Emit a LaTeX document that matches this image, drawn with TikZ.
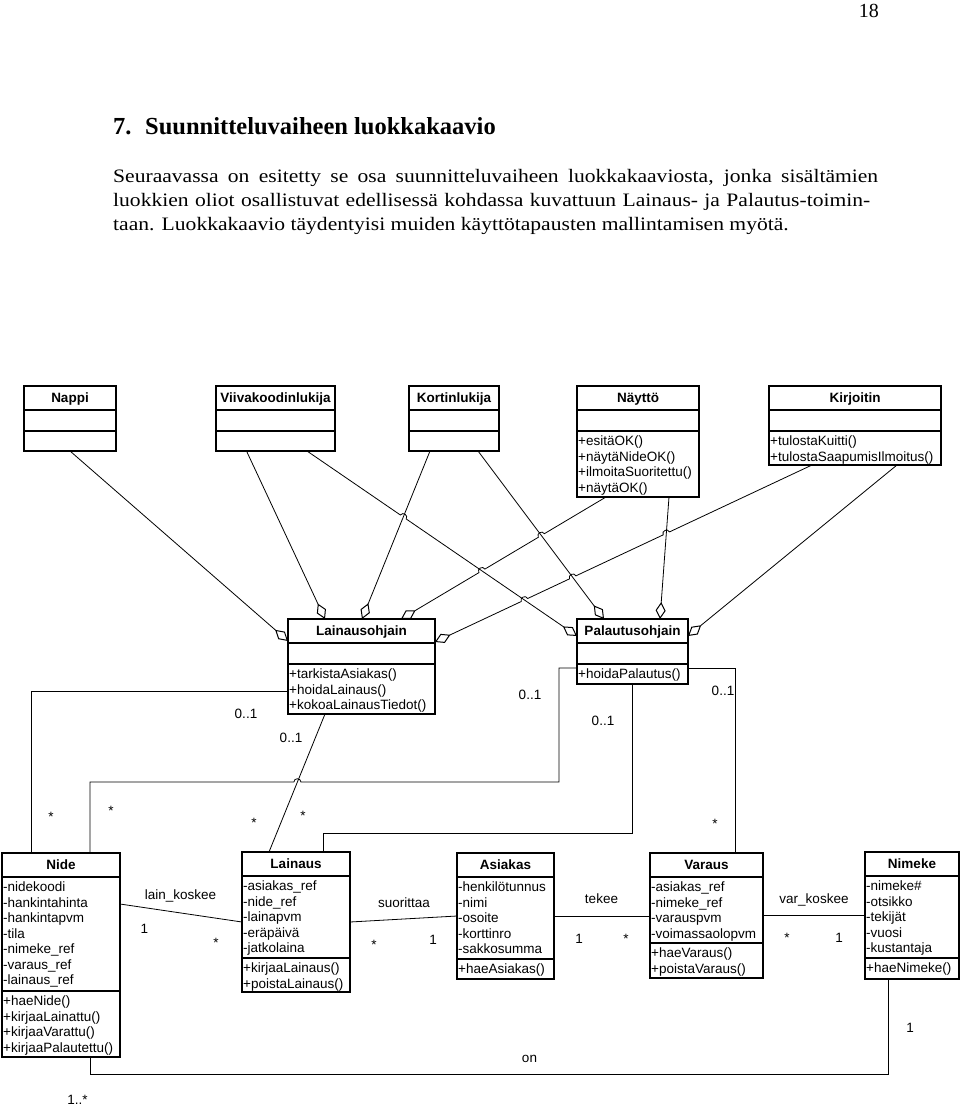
\documentclass[tikz,border=0pt]{standalone}
\usepackage{fontspec}
\setmainfont{Liberation Serif}
\newfontfamily\diagfont{Liberation Sans}
\usepackage{graphicx}
\usetikzlibrary{arrows.meta,calc,intersections}

\newcommand{\umlclass}[8]{%
  \node[cls, minimum width=#4pt, minimum height=#5pt] (#1) at (#2,#3) {};
  \draw[cline] ([yshift=-#6pt]#1.north west) -- ([yshift=-#6pt]#1.north east);
  \draw[cline] ([yshift=-#7pt]#1.north west) -- ([yshift=-#7pt]#1.north east);
  \node[ctitle] (#1-t) at ([yshift=-0.5*#6pt]#1.north) {#8};
}

\begin{document}
\begin{tikzpicture}[x=1pt,y=-1pt,
  cls/.style={draw, line width=1.2pt, inner sep=0pt, outer sep=0pt, anchor=north west},
  cline/.style={line width=1.2pt},
  ctitle/.style={font=\diagfont\fontsize{13.5}{15.5}\selectfont\bfseries, inner sep=0pt, text height=9.7pt, text depth=0pt},
  members/.style={font=\diagfont\fontsize{13.5}{15.5}\selectfont, inner sep=0pt, anchor=north west, align=left},
  lbl/.style={font=\diagfont\fontsize{13.5}{15.5}\selectfont, inner sep=0pt, anchor=base},
  conn/.style={line width=0.8pt},
  agg/.style={conn, -{Diamond[open, length=17pt, width=10pt, line width=1pt]}},
  hopL/.style={bend left=90, looseness=1.6},
  hopR/.style={bend right=90, looseness=1.6},
  para/.style={font=\fontsize{19}{24}\selectfont, anchor=base west, inner sep=0pt},
]
\fill[white] (0,0) rectangle (960,1106);
\useasboundingbox (0,0) rectangle (960,1106);

% ---- page text
\node[font=\fontsize{20}{24}\selectfont, anchor=base east, inner sep=0pt] (pnum) at (879,17) {18};
\node[font=\fontsize{24.5}{29}\selectfont\bfseries, anchor=base west, inner sep=0pt] (title) at (113,134) {7.\hspace{13.6pt}Suunnitteluvaiheen luokkakaavio};
\node[para] (p1) at (113,182) {\scalebox{1.136}[1]{\makebox[673.4pt][s]{Seuraavassa on esitetty se osa suunnitteluvaiheen luokkakaaviosta, jonka sisältämien}}};
\node[para] (p2) at (113,206) {\scalebox{1.136}[1]{\makebox[666.4pt][s]{luokkien oliot osallistuvat edellisessä kohdassa kuvattuun Lainaus- ja Palautus-toimin-}}};
\node[para] (p3) at (113,230) {\scalebox{1.136}[1]{taan. Luokkakaavio täydentyisi muiden käyttötapausten mallintamisen myötä.}};

% ---- top classes
\umlclass{nappi}{24}{386}{92}{65}{24}{45}{Nappi}
\umlclass{viiva}{216}{386}{119}{65}{24}{45}{Viivakoodinlukija}
\umlclass{kortin}{409}{386}{90}{65}{24}{45}{Kortinlukija}
\umlclass{naytto}{577}{386}{122}{111}{24}{45}{Näyttö}
\umlclass{kirjoitin}{769}{386}{172}{79}{24}{45}{Kirjoitin}
\node[members] (naytto-m) at (578,434.5) {\strut+esitäOK()\\+näytäNideOK()\\+ilmoitaSuoritettu()\\+näytäOK()};
\node[members] (kirjoitin-m) at (770,434.5) {\strut+tulostaKuitti()\\+tulostaSaapumisIlmoitus()};

% ---- controllers
\umlclass{lo}{288}{619}{147}{95}{24}{45}{Lainausohjain}
\node[members] (lo-m) at (289,667.5) {\strut+tarkistaAsiakas()\\+hoidaLainaus()\\+kokoaLainausTiedot()};
\umlclass{po}{577}{619}{111}{65}{24}{45}{Palautusohjain}
\node[members] (po-m) at (578,667.5) {\strut+hoidaPalautus()};

% ---- bottom classes
\umlclass{nide}{2}{853}{118}{204}{24}{138}{Nide}
\node[members] (nide-a) at (3,880.5) {\strut-nidekoodi\\-hankintahinta\\-hankintapvm\\-tila\\-nimeke\_ref\\-varaus\_ref\\-lainaus\_ref};
\node[members] (nide-m) at (3,994.5) {\strut+haeNide()\\+kirjaaLainattu()\\+kirjaaVarattu()\\+kirjaaPalautettu()};
\umlclass{lainaus}{242}{852}{108}{140}{24}{106}{Lainaus}
\node[members] (lainaus-a) at (243,879.5) {\strut-asiakas\_ref\\-nide\_ref\\-lainapvm\\-eräpäivä\\-jatkolaina};
\node[members] (lainaus-m) at (243,961.5) {\strut+kirjaaLainaus()\\+poistaLainaus()};
\umlclass{asiakas}{457}{853}{97}{126}{24}{106}{Asiakas}
\node[members] (asiakas-a) at (458,880.5) {\strut-henkilötunnus\\-nimi\\-osoite\\-korttinro\\-sakkosumma};
\node[members] (asiakas-m) at (458,962.5) {\strut+haeAsiakas()};
\umlclass{varaus}{650}{853}{113}{125}{24}{90}{Varaus}
\node[members] (varaus-a) at (651,880.5) {\strut-asiakas\_ref\\-nimeke\_ref\\-varauspvm\\-voimassaolopvm};
\node[members] (varaus-m) at (651,946.5) {\strut+haeVaraus()\\+poistaVaraus()};
\umlclass{nimeke}{865}{852}{94}{127}{24}{106}{Nimeke}
\node[members] (nimeke-a) at (866,879.5) {\strut-nimeke\#\\-otsikko\\-tekijät\\-vuosi\\-kustantaja};
\node[members] (nimeke-m) at (866,961.5) {\strut+haeNimeke()};

% ---- connector end points
\coordinate (nap-s) at (nappi.south);
\coordinate (vi-s1) at ([xshift=-29pt]viiva.south);
\coordinate (vi-s2) at ([xshift=31.5pt]viiva.south);
\coordinate (ko-s1) at ([xshift=-24pt]kortin.south);
\coordinate (ko-s2) at ([xshift=24pt]kortin.south);
\coordinate (na-s1) at ([xshift=-32pt]naytto.south);
\coordinate (na-s2) at ([xshift=31pt]naytto.south);
\coordinate (ki-s1) at ([xshift=-43pt]kirjoitin.south);
\coordinate (ki-s2) at ([xshift=42pt]kirjoitin.south);
\coordinate (lo-e1) at ([yshift=-22pt]lo.north west);
\coordinate (lo-e2) at ([xshift=37pt]lo.north west);
\coordinate (lo-e3) at ([xshift=74pt]lo.north west);
\coordinate (lo-e4) at ([xshift=113pt]lo.north west);
\coordinate (lo-e5) at ([yshift=-23pt]lo.north east);
\coordinate (po-e1) at ([yshift=-17pt]po.north west);
\coordinate (po-e2) at ([xshift=27pt]po.north west);
\coordinate (po-e3) at ([xshift=83pt]po.north west);
\coordinate (po-e4) at ([yshift=-17pt]po.north east);

\path[name path=L3] (vi-s2) -- (po-e1);
\path[name path=L4] (ko-s1) -- (lo-e3);
\path[name path=L5] (na-s1) -- (lo-e4);
\path[name path=L6] (ko-s2) -- (po-e2);
\path[name path=L7] (ki-s1) -- (lo-e5);
\path[name path=L8] (na-s2) -- (po-e3);
\path[name intersections={of=L3 and L4, by=x34}];
\path[name intersections={of=L5 and L6, by=x56}];
\path[name intersections={of=L5 and L3, by=x53}];
\path[name intersections={of=L7 and L8, by=x78}];
\path[name intersections={of=L7 and L6, by=x76}];
\path[name intersections={of=L7 and L3, by=x73}];

% ---- aggregations
\draw[agg] (nap-s) -- (lo-e1);
\draw[agg] (vi-s1) -- (lo-e2);
\draw[agg] (ko-s1) -- (lo-e3);
\draw[agg] (ko-s2) -- (po-e2);
\draw[agg] (na-s2) -- (po-e3);
\draw[agg] (ki-s2) -- (po-e4);
\draw[agg] (vi-s2) -- ($(x34)!3.5pt!(vi-s2)$) to[hopL] ($(x34)!3.5pt!(po-e1)$) -- (po-e1);
\draw[agg] (na-s1) -- ($(x56)!3.5pt!(na-s1)$) to[hopR] ($(x56)!3.5pt!(lo-e4)$)
  -- ($(x53)!3.5pt!(na-s1)$) to[hopR] ($(x53)!3.5pt!(lo-e4)$) -- (lo-e4);
\draw[agg] (ki-s1) -- ($(x78)!3.5pt!(ki-s1)$) to[hopR] ($(x78)!3.5pt!(lo-e5)$)
  -- ($(x76)!3.5pt!(ki-s1)$) to[hopR] ($(x76)!3.5pt!(lo-e5)$)
  -- ($(x73)!3.5pt!(ki-s1)$) to[hopR] ($(x73)!3.5pt!(lo-e5)$) -- (lo-e5);

% ---- associations from controllers
\coordinate (lo-b) at ([xshift=37pt]lo.south west);
\coordinate (la-t1) at ([xshift=27pt]lainaus.north west);
\coordinate (la-t2) at ([xshift=81pt]lainaus.north west);
\coordinate (nide-t1) at ([xshift=29pt]nide.north west);
\coordinate (nide-t2) at ([xshift=88pt]nide.north west);
\coordinate (lo-w) at ([yshift=-72pt]lo.north west);
\coordinate (po-w) at ([yshift=-49pt]po.north west);
\coordinate (po-ee) at ([yshift=-49pt]po.north east);
\coordinate (po-b) at (po.south);
\coordinate (va-t) at ([xshift=85pt]varaus.north west);
\coordinate (hL) at ($(nide-t2)+(0,-71)$);
\coordinate (hR) at (559,782);
\path[name path=H] (hL) -- (hR);
\path[name path=L10] (lo-b) -- (la-t1);
\path[name intersections={of=H and L10, by=xH}];

\draw[conn] (lo-w) -| (nide-t1);
\draw[conn] (lo-b) -- (la-t1);
\draw[conn] (nide-t2) -- (hL) -- ($(xH)!3.5pt!(hL)$) to[hopL] ($(xH)!3.5pt!(hR)$) -- (hR) |- (po-w);
\draw[conn] (po-b) |- ($(la-t2)+(0,-19)$) -- (la-t2);
\draw[conn] (po-ee) -| (va-t);

% ---- associations between entity classes
\draw[conn] ([yshift=-51pt]nide.north east) -- ([yshift=-70pt]lainaus.north west);
\draw[conn] ([yshift=-70pt]lainaus.north east) -- ([yshift=-63pt]asiakas.north west);
\draw[conn] ([yshift=-63pt]asiakas.north east) -- ([yshift=-63pt]varaus.north west);
\draw[conn] ([yshift=-62pt]varaus.north east) -- ([yshift=-63pt]nimeke.north west);
\draw[conn] ([xshift=88pt]nide.south west) -- ++(0,17) -| ([xshift=23pt]nimeke.south west);

% ---- labels
\node[lbl] (m1) at (246,718) {0..1};
\node[lbl] (m2) at (291,742) {0..1};
\node[lbl] (m3) at (530,699) {0..1};
\node[lbl] (m4) at (603,725) {0..1};
\node[lbl] (m5) at (723,695) {0..1};
\node[lbl] (s1) at (51,821) {*};
\node[lbl] (s2) at (111,815) {*};
\node[lbl] (s3) at (254,827) {*};
\node[lbl] (s4) at (303,820) {*};
\node[lbl] (s5) at (715,828) {*};
\node[lbl] (r1) at (180.5,899) {lain\_koskee};
\node[lbl] (r1a) at (144.5,933) {1};
\node[lbl] (r1b) at (216,947) {*};
\node[lbl] (r2) at (404,907) {suorittaa};
\node[lbl] (r2a) at (374,949) {*};
\node[lbl] (r2b) at (433,944) {1};
\node[lbl] (r3) at (601.5,903) {tekee};
\node[lbl] (r3a) at (579,943) {1};
\node[lbl] (r3b) at (626,943) {*};
\node[lbl] (r4) at (814,903) {var\_koskee};
\node[lbl] (r4a) at (787,942) {*};
\node[lbl] (r4b) at (839,942) {1};
\node[lbl] (r5) at (529.5,1062) {on};
\node[lbl] (r5a) at (910,1032) {1};
\node[lbl] (r5b) at (77.5,1104) {1..*};
\end{tikzpicture}
\end{document}
